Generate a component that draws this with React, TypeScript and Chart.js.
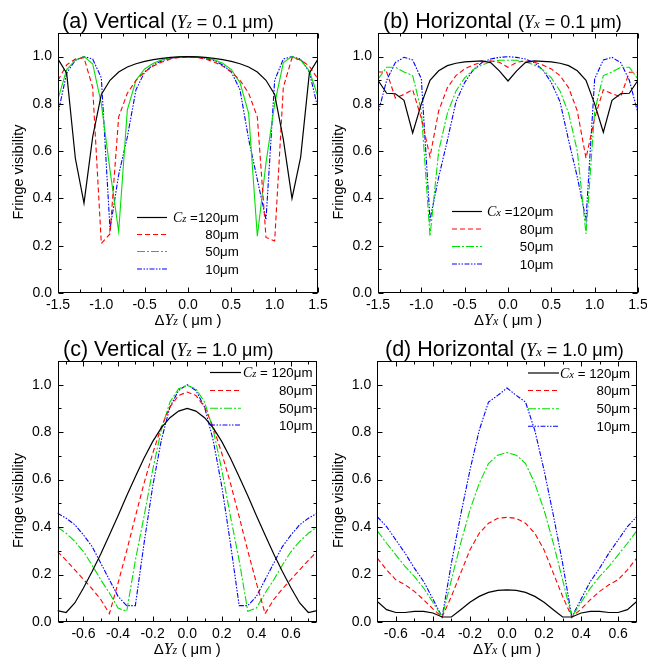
import React, { useEffect, useRef } from 'react';
import { Chart, registerables } from 'chart.js';
Chart.register(...registerables);

// ---------- data ----------
const xTop = [-1.5, -1.4, -1.3, -1.2, -1.1, -1.0, -0.9, -0.8, -0.7, -0.6, -0.5, -0.4, -0.3, -0.2, -0.1, 0, 0.1, 0.2, 0.3, 0.4, 0.5, 0.6, 0.7, 0.8, 0.9, 1.0, 1.1, 1.2, 1.3, 1.4, 1.5];

const aBlack = [0.99, 0.93, 0.57, 0.38, 0.66, 0.84, 0.90, 0.935, 0.956, 0.97, 0.98, 0.987, 0.993, 0.997, 0.999, 1.0, 0.999, 0.997, 0.993, 0.987, 0.98, 0.97, 0.956, 0.935, 0.90, 0.84, 0.65, 0.40, 0.575, 0.93, 0.99];
const aRed = [0.90, 0.965, 0.99, 0.995, 0.87, 0.21, 0.25, 0.745, 0.845, 0.90, 0.935, 0.96, 0.977, 0.99, 0.997, 1.0, 0.997, 0.99, 0.977, 0.96, 0.935, 0.90, 0.845, 0.745, 0.235, 0.22, 0.87, 0.995, 0.986, 0.96, 0.905];
const aGreen = [0.82, 0.945, 0.985, 1.0, 0.97, 0.80, 0.52, 0.26, 0.775, 0.90, 0.948, 0.972, 0.987, 0.995, 0.999, 1.0, 0.999, 0.995, 0.987, 0.972, 0.945, 0.89, 0.76, 0.24, 0.55, 0.80, 0.975, 1.0, 0.985, 0.94, 0.83];
const aBlue = [0.76, 0.93, 0.985, 1.0, 0.99, 0.91, 0.27, 0.50, 0.66, 0.86, 0.935, 0.965, 0.983, 0.993, 0.998, 1.0, 0.998, 0.993, 0.983, 0.965, 0.935, 0.86, 0.65, 0.48, 0.31, 0.90, 0.99, 1.0, 0.99, 0.935, 0.78];

const bBlack = [0.90, 0.845, 0.843, 0.815, 0.677, 0.80, 0.90, 0.94, 0.962, 0.972, 0.978, 0.98, 0.982, 0.975, 0.94, 0.897, 0.94, 0.975, 0.982, 0.98, 0.978, 0.972, 0.962, 0.94, 0.90, 0.80, 0.68, 0.815, 0.843, 0.845, 0.90];
const bRed = [0.935, 0.935, 0.825, 0.84, 0.86, 0.74, 0.576, 0.77, 0.868, 0.92, 0.948, 0.965, 0.977, 0.982, 0.976, 0.955, 0.976, 0.982, 0.977, 0.965, 0.948, 0.92, 0.868, 0.77, 0.57, 0.74, 0.86, 0.843, 0.83, 0.934, 0.934];
const bGreen = [0.905, 0.955, 0.955, 0.935, 0.92, 0.77, 0.24, 0.60, 0.76, 0.855, 0.91, 0.945, 0.965, 0.978, 0.985, 0.985, 0.985, 0.978, 0.965, 0.945, 0.91, 0.855, 0.76, 0.60, 0.25, 0.77, 0.92, 0.935, 0.955, 0.955, 0.905];
const bBlue = [0.76, 0.90, 0.975, 0.997, 0.986, 0.906, 0.31, 0.49, 0.645, 0.81, 0.89, 0.945, 0.975, 0.99, 0.997, 1.0, 0.997, 0.99, 0.975, 0.945, 0.89, 0.81, 0.645, 0.49, 0.31, 0.906, 0.986, 0.997, 0.975, 0.90, 0.76];

const xC = [-0.75, -0.7, -0.65, -0.6, -0.55, -0.5, -0.45, -0.4, -0.35, -0.3, -0.25, -0.2, -0.15, -0.1, -0.05, 0, 0.05, 0.1, 0.15, 0.2, 0.25, 0.3, 0.35, 0.4, 0.45, 0.5, 0.55, 0.6, 0.65, 0.7, 0.75];
const cBlack = [0.048, 0.04, 0.08, 0.143, 0.213, 0.287, 0.367, 0.448, 0.532, 0.612, 0.69, 0.76, 0.818, 0.861, 0.889, 0.90, 0.889, 0.861, 0.818, 0.76, 0.69, 0.612, 0.532, 0.448, 0.367, 0.287, 0.213, 0.143, 0.08, 0.04, 0.048];
const cRed = [0.297, 0.26, 0.22, 0.18, 0.14, 0.095, 0.035, 0.164, 0.30, 0.444, 0.584, 0.71, 0.822, 0.906, 0.955, 0.969, 0.955, 0.906, 0.822, 0.71, 0.584, 0.444, 0.30, 0.164, 0.035, 0.095, 0.14, 0.18, 0.22, 0.26, 0.297];
const cGreen = [0.40, 0.374, 0.34, 0.297, 0.24, 0.178, 0.122, 0.059, 0.045, 0.26, 0.444, 0.64, 0.81, 0.927, 0.983, 0.997, 0.983, 0.927, 0.81, 0.64, 0.444, 0.26, 0.045, 0.059, 0.122, 0.178, 0.24, 0.297, 0.34, 0.374, 0.40];
const cBlue = [0.458, 0.437, 0.41, 0.367, 0.318, 0.248, 0.178, 0.108, 0.069, 0.069, 0.33, 0.57, 0.766, 0.906, 0.976, 1.0, 0.976, 0.906, 0.766, 0.57, 0.33, 0.069, 0.069, 0.108, 0.178, 0.248, 0.318, 0.367, 0.41, 0.437, 0.458];

const xD = [-0.7, -0.65, -0.6, -0.55, -0.5, -0.45, -0.4, -0.35, -0.3, -0.25, -0.2, -0.15, -0.1, -0.05, 0, 0.05, 0.1, 0.15, 0.2, 0.25, 0.3, 0.35, 0.4, 0.45, 0.5, 0.55, 0.6, 0.65, 0.7];
const dBlack = [0.087, 0.052, 0.04, 0.04, 0.045, 0.045, 0.038, 0.021, 0.021, 0.052, 0.083, 0.108, 0.125, 0.133, 0.135, 0.133, 0.125, 0.108, 0.083, 0.052, 0.021, 0.021, 0.038, 0.045, 0.045, 0.04, 0.04, 0.052, 0.087];
const dRed = [0.269, 0.22, 0.178, 0.157, 0.129, 0.094, 0.055, 0.021, 0.108, 0.206, 0.304, 0.374, 0.416, 0.437, 0.441, 0.437, 0.416, 0.374, 0.304, 0.206, 0.108, 0.021, 0.055, 0.094, 0.129, 0.157, 0.178, 0.22, 0.269];
const dGreen = [0.384, 0.332, 0.283, 0.234, 0.192, 0.143, 0.083, 0.021, 0.178, 0.332, 0.472, 0.584, 0.668, 0.703, 0.714, 0.703, 0.668, 0.584, 0.472, 0.332, 0.178, 0.021, 0.083, 0.143, 0.192, 0.234, 0.283, 0.332, 0.384];
const dBlue = [0.444, 0.402, 0.346, 0.29, 0.227, 0.171, 0.097, 0.021, 0.248, 0.451, 0.64, 0.808, 0.927, 0.955, 0.986, 0.955, 0.927, 0.808, 0.64, 0.451, 0.248, 0.021, 0.097, 0.171, 0.227, 0.29, 0.346, 0.402, 0.444];

const legendLabels = ['120μm', '80μm', '50μm', '10μm'];
const yMajorTicks = [0, 0.2, 0.4, 0.6, 0.8, 1.0];
const yMinorTicks = [0.1, 0.3, 0.5, 0.7, 0.9];
const xTopMajor = [-1.5, -1.0, -0.5, 0, 0.5, 1.0, 1.5];
const xTopMinor = [-1.25, -0.75, -0.25, 0.25, 0.75, 1.25];
const xBotMajor = [-0.6, -0.4, -0.2, 0, 0.2, 0.4, 0.6];
const xBotMinorC = [-0.7, -0.5, -0.3, -0.1, 0.1, 0.3, 0.5, 0.7];
const xBotMinorD = [-0.5, -0.3, -0.1, 0.1, 0.3, 0.5];

// ---------- styles ----------
const SANS = '"Liberation Sans", Arial, Helvetica, sans-serif';
const SERIF = '"Liberation Serif", "Times New Roman", serif';
const COLORS = ['#000000', '#ff0000', '#00e000', '#0000ff'];
const DASHES = [[], [5, 3], [8, 2, 2, 2], [5, 1.5, 1.5, 1.5, 1.5, 1.5]];
const WIDTHS = [1.2, 1.1, 1.1, 1.1];

type Seg = { t: string; f: string; dy?: number };

function drawSegs(ctx: CanvasRenderingContext2D, segs: Seg[], x: number, y: number, align: string) {
  ctx.textAlign = 'left';
  let w = 0;
  segs.forEach((s) => { ctx.font = s.f; w += ctx.measureText(s.t).width; });
  let cx = align === 'center' ? x - w / 2 : align === 'right' ? x - w : x;
  segs.forEach((s) => {
    ctx.font = s.f;
    ctx.fillText(s.t, cx, y + (s.dy || 0));
    cx += ctx.measureText(s.t).width;
  });
  return w;
}

function titleSegs(prefix: string, axis: string, val: string): Seg[] {
  return [
    { t: prefix + ' ', f: `21.5px ${SANS}` },
    { t: '(', f: `18px ${SANS}` },
    { t: 'Y', f: `italic 18px ${SERIF}` },
    { t: axis, f: `italic 13px ${SERIF}` },
    { t: ' = ' + val + ' μm)', f: `18px ${SANS}` },
  ];
}

interface Panel {
  id: string;
  left: number; top: number; width: number; height: number;
  area: { l: number; t: number; r: number; b: number };
  xMin: number; xMax: number; xMajor: number[]; xMinor: number[];
  xs: number[]; series: number[][]; greenSolid: boolean;
  axis: string; prefix: string; val: string; titleX: number; eq: string;
  legend: { x0: number; x1: number; tx: number; ys: number[] };
}

const panels: Panel[] = [
  {
    id: 'a', left: 0, top: 0, width: 345, height: 330,
    area: { l: 58, t: 33, r: 318, b: 293 },
    xMin: -1.5, xMax: 1.5, xMajor: xTopMajor, xMinor: xTopMinor,
    xs: xTop, series: [aBlack, aRed, aGreen, aBlue], greenSolid: true,
    axis: 'z', prefix: '(a) Vertical', val: '0.1', titleX: 62, eq: ' =',
    legend: { x0: 137, x1: 167, tx: 173, ys: [217, 234, 251, 268.5] },
  },
  {
    id: 'b', left: 320, top: 0, width: 327, height: 330,
    area: { l: 58, t: 33, r: 318, b: 293 },
    xMin: -1.5, xMax: 1.5, xMajor: xTopMajor, xMinor: xTopMinor,
    xs: xTop, series: [bBlack, bRed, bGreen, bBlue], greenSolid: false,
    axis: 'x', prefix: '(b) Horizontal', val: '0.1', titleX: 63, eq: ' =',
    legend: { x0: 132, x1: 162, tx: 167, ys: [211, 228.5, 246, 263.5] },
  },
  {
    id: 'c', left: 0, top: 330, width: 345, height: 334,
    area: { l: 57.5, t: 31, r: 317, b: 292 },
    xMin: -0.75, xMax: 0.75, xMajor: xBotMajor, xMinor: xBotMinorC,
    xs: xC, series: [cBlack, cRed, cGreen, cBlue], greenSolid: false,
    axis: 'z', prefix: '(c) Vertical', val: '1.0', titleX: 63, eq: ' = ',
    legend: { x0: 210, x1: 241, tx: 243, ys: [42, 60, 77.7, 94.5] },
  },
  {
    id: 'd', left: 320, top: 330, width: 327, height: 334,
    area: { l: 57.3, t: 31, r: 316.7, b: 292 },
    xMin: -0.7, xMax: 0.7, xMajor: xBotMajor, xMinor: xBotMinorD,
    xs: xD, series: [dBlack, dRed, dGreen, dBlue], greenSolid: false,
    axis: 'x', prefix: '(d) Horizontal', val: '1.0', titleX: 65, eq: ' = ',
    legend: { x0: 208, x1: 239, tx: 240, ys: [42.5, 60, 78.3, 95.7] },
  },
];

function makeDeco(p: Panel) {
  return {
    id: 'deco' + p.id,
    afterDraw(chart: any) {
      const ctx: CanvasRenderingContext2D = chart.ctx;
      const { left, right, top, bottom } = chart.chartArea;
      const xs = chart.scales.x;
      const ys = chart.scales.y;
      ctx.save();
      ctx.strokeStyle = '#000';
      ctx.lineWidth = 1;
      ctx.setLineDash([]);
      const L = Math.round(left) + 0.5;
      const R = Math.round(right) - 0.5;
      const T = Math.round(top) + 0.5;
      const B = Math.round(bottom) - 0.5;
      ctx.strokeRect(L, T, R - L, B - T);
      ctx.beginPath();
      const xt = (vals: number[], len: number) => vals.forEach((v) => {
        const px = Math.round(xs.getPixelForValue(v)) + 0.5;
        ctx.moveTo(px, B); ctx.lineTo(px, B - len);
        ctx.moveTo(px, T); ctx.lineTo(px, T + len);
      });
      const yt = (vals: number[], len: number) => vals.forEach((v) => {
        const py = Math.round(ys.getPixelForValue(v)) + 0.5;
        ctx.moveTo(L, py); ctx.lineTo(L + len, py);
        ctx.moveTo(R, py); ctx.lineTo(R - len, py);
      });
      xt(p.xMajor, 5); xt(p.xMinor, 3);
      yt(yMajorTicks, 5); yt(yMinorTicks, 3);
      ctx.stroke();

      ctx.fillStyle = '#000';
      ctx.textBaseline = 'alphabetic';
      // panel title
      drawSegs(ctx, titleSegs(p.prefix, p.axis, p.val), p.titleX, top - 5, 'left');
      // x axis title
      drawSegs(ctx, [
        { t: 'Δ', f: `15px ${SANS}` },
        { t: 'Y', f: `italic 16px ${SERIF}` },
        { t: p.axis, f: `italic 12px ${SERIF}` },
        { t: ' ( μm )', f: `15px ${SANS}` },
      ], (left + right) / 2, bottom + 32, 'center');
      // y axis title
      ctx.save();
      ctx.translate(18.5, (top + bottom) / 2 + 9);
      ctx.rotate(-Math.PI / 2);
      ctx.textAlign = 'center';
      ctx.textBaseline = 'middle';
      ctx.font = `14.5px ${SANS}`;
      ctx.fillText('Fringe visibility', 0, 0);
      ctx.restore();

      // legend
      const lg = p.legend;
      lg.ys.forEach((y, i) => {
        ctx.beginPath();
        ctx.strokeStyle = COLORS[i];
        ctx.lineWidth = WIDTHS[i];
        ctx.setLineDash(DASHES[i]);
        ctx.moveTo(lg.x0, y + 0.5);
        ctx.lineTo(lg.x1, y + 0.5);
        ctx.stroke();
      });
      ctx.setLineDash([]);
      ctx.fillStyle = '#000';
      ctx.textBaseline = 'alphabetic';
      const w0 = drawSegs(ctx, [
        { t: 'C', f: `italic 14px ${SERIF}` },
        { t: p.axis, f: `italic 10.5px ${SERIF}` },
        { t: p.eq + legendLabels[0], f: `13.3px ${SANS}` },
      ], lg.tx, lg.ys[0] + 5, 'left');
      const rEdge = lg.tx + w0;
      for (let i = 1; i < 4; i++) {
        drawSegs(ctx, [{ t: legendLabels[i], f: `13.3px ${SANS}` }], rEdge, lg.ys[i] + 5, 'right');
      }
      ctx.restore();
    },
  };
}

function PanelChart({ p }: { p: Panel }) {
  const ref = useRef<HTMLCanvasElement>(null);
  useEffect(() => {
    if (!ref.current) return;
    const datasets = p.series.map((s, i) => ({
      label: legendLabels[i],
      data: p.xs.map((x, j) => ({ x, y: s[j] })),
      borderColor: COLORS[i],
      borderWidth: WIDTHS[i],
      borderDash: i === 2 && p.greenSolid ? [] : DASHES[i],
      pointRadius: 0,
      fill: false,
      tension: 0,
    }));
    const tickFont = { family: SANS, size: 14 };
    const chart = new Chart(ref.current, {
      type: 'line',
      data: { datasets },
      options: {
        animation: false,
        responsive: false,
        maintainAspectRatio: false,
        devicePixelRatio: 1,
        layout: { padding: { left: 0, top: p.area.t, right: p.width - p.area.r, bottom: 0 } },
        plugins: { legend: { display: false }, tooltip: { enabled: false }, title: { display: false } },
        scales: {
          x: {
            type: 'linear',
            min: p.xMin,
            max: p.xMax,
            afterBuildTicks: (s: any) => { s.ticks = p.xMajor.map((v) => ({ value: v })); },
            afterFit: (s: any) => { s.height = p.height - p.area.b; s.paddingLeft = 0; s.paddingRight = 0; },
            grid: { display: false, drawTicks: false },
            border: { display: false },
            ticks: {
              autoSkip: false, maxRotation: 0, minRotation: 0, padding: 4, color: '#000', font: tickFont,
              callback: (v: any) => Number(v).toFixed(1),
            },
          },
          y: {
            type: 'linear',
            min: 0,
            max: 1.1,
            afterBuildTicks: (s: any) => { s.ticks = yMajorTicks.map((v) => ({ value: v })); },
            afterFit: (s: any) => { s.width = p.area.l; s.paddingTop = 0; s.paddingBottom = 0; },
            grid: { display: false, drawTicks: false },
            border: { display: false },
            ticks: {
              autoSkip: false, padding: 6, color: '#000', font: tickFont,
              callback: (v: any) => Number(v).toFixed(1),
            },
          },
        },
      } as any,
      plugins: [makeDeco(p)],
    });
    return () => chart.destroy();
  }, [p]);
  return (
    <canvas
      ref={ref}
      width={p.width}
      height={p.height}
      style={{ position: 'absolute', left: p.left, top: p.top, width: p.width, height: p.height }}
    />
  );
}

export default function App() {
  return (
    <div style={{ position: 'absolute', left: 0, top: 0, width: 647, height: 664, background: '#fff' }}>
      {panels.map((p) => <PanelChart key={p.id} p={p} />)}
    </div>
  );
}
